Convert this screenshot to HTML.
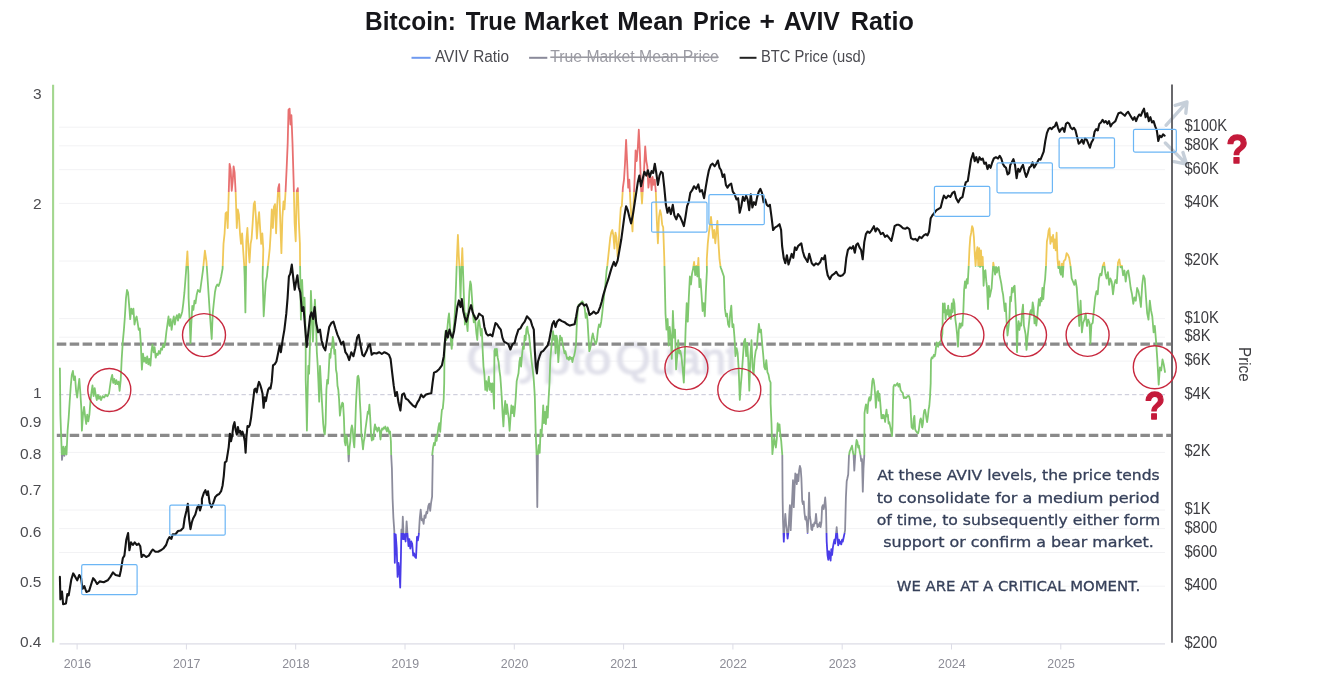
<!DOCTYPE html>
<html lang="en"><head><meta charset="utf-8"><title>Bitcoin: True Market Mean Price + AVIV Ratio</title>
<style>
html,body{margin:0;padding:0;background:#fff;}
body{width:1318px;height:678px;overflow:hidden;}
svg{display:block;font-family:"Liberation Sans", sans-serif;}
</style></head><body>
<svg width="1318" height="678" viewBox="0 0 1318 678">
<defs>
<linearGradient id="av" gradientUnits="userSpaceOnUse" x1="0" y1="0" x2="0" y2="678">
<stop offset="0" stop-color="#e87070"/><stop offset="0.28260" stop-color="#e87070"/>
<stop offset="0.28260" stop-color="#f0c858"/><stop offset="0.39218" stop-color="#f0c858"/>
<stop offset="0.39218" stop-color="#80c870"/><stop offset="0.67153" stop-color="#80c870"/>
<stop offset="0.67153" stop-color="#8c8c9c"/><stop offset="0.78643" stop-color="#8c8c9c"/>
<stop offset="0.78643" stop-color="#4a3ce8"/><stop offset="1" stop-color="#4a3ce8"/>
</linearGradient>
<filter id="blur" x="-5%" y="-20%" width="110%" height="140%"><feGaussianBlur stdDeviation="1.5"/></filter>
</defs>
<rect width="1318" height="678" fill="#fff"/>

<g stroke="#f2f2f4" stroke-width="1">
<line x1="59" y1="127.2" x2="1165" y2="127.2"/>
<line x1="59" y1="145.8" x2="1165" y2="145.8"/>
<line x1="59" y1="169.7" x2="1165" y2="169.7"/>
<line x1="59" y1="203.4" x2="1165" y2="203.4"/>
<line x1="59" y1="261.0" x2="1165" y2="261.0"/>
<line x1="59" y1="318.6" x2="1165" y2="318.6"/>
<line x1="59" y1="337.2" x2="1165" y2="337.2"/>
<line x1="59" y1="361.1" x2="1165" y2="361.1"/>
<line x1="59" y1="452.4" x2="1165" y2="452.4"/>
<line x1="59" y1="510.0" x2="1165" y2="510.0"/>
<line x1="59" y1="528.6" x2="1165" y2="528.6"/>
<line x1="59" y1="552.5" x2="1165" y2="552.5"/>
<line x1="59" y1="586.2" x2="1165" y2="586.2"/>
</g>
<line x1="59.5" y1="643.8" x2="1165" y2="643.8" stroke="#dcdce6" stroke-width="1.2"/>
<g stroke="#dcdce6" stroke-width="1">
<line x1="77.1" y1="643.8" x2="77.1" y2="649.5"/>
<line x1="186.4" y1="643.8" x2="186.4" y2="649.5"/>
<line x1="295.7" y1="643.8" x2="295.7" y2="649.5"/>
<line x1="405.0" y1="643.8" x2="405.0" y2="649.5"/>
<line x1="514.3" y1="643.8" x2="514.3" y2="649.5"/>
<line x1="623.6" y1="643.8" x2="623.6" y2="649.5"/>
<line x1="732.9" y1="643.8" x2="732.9" y2="649.5"/>
<line x1="842.2" y1="643.8" x2="842.2" y2="649.5"/>
<line x1="951.5" y1="643.8" x2="951.5" y2="649.5"/>
<line x1="1060.8" y1="643.8" x2="1060.8" y2="649.5"/>
</g>
<g font-size="45" fill="#e0e0ea" stroke="#e0e0ea" stroke-width="1.4" filter="url(#blur)"><text x="466.5" y="373.5" textLength="145" lengthAdjust="spacingAndGlyphs">Crypto</text><text x="615.5" y="373.5" textLength="123" lengthAdjust="spacingAndGlyphs">Quant</text></g>
<line x1="59" y1="394.7" x2="1165" y2="394.7" stroke="#c6c6d6" stroke-width="1" stroke-dasharray="4.4 2.9"/>
<g fill="none" stroke="#c2cbd6" stroke-width="3.4" stroke-linecap="round" stroke-linejoin="round" opacity="0.92">
<path d="M1166.2,125.2 L1186.2,102.9 M1175.2,105.4 L1187,102 L1185.8,113.2"/>
<path d="M1165.4,143 L1185.8,163.4 M1183,152.6 L1186.6,164.1 L1174,161.6"/>
</g>
<line x1="53.1" y1="84.8" x2="53.1" y2="642.6" stroke="#a3d78f" stroke-width="2.1"/>
<line x1="1172" y1="84.5" x2="1172" y2="642.8" stroke="#58585c" stroke-width="1.8"/>
<g stroke="#8a8a8a" stroke-width="3.2" stroke-dasharray="9.5 3.4">
<line x1="56.8" y1="344.2" x2="1171" y2="344.2"/>
<line x1="56.8" y1="435.3" x2="1171" y2="435.3"/>
</g>
<path d="M59.9,368.3 L60.4,414.7 L61.2,437.3 L62.0,459.9 L63.4,446.6 L64.4,455.9 L65.7,446.6 L66.5,454.5 L67.6,430.7 L68.7,417.4 L69.7,401.5 L70.8,385.5 L71.8,374.9 L72.9,370.9 L74.0,380.2 L75.0,376.3 L76.1,390.8 L77.2,397.5 L78.2,388.2 L79.3,378.9 L80.3,392.2 L81.4,409.4 L81.9,430.7 L83.0,414.7 L84.1,406.8 L85.1,416.1 L86.2,424.0 L87.2,414.7 L88.3,421.4 L89.4,414.7 L90.4,401.5 L91.5,392.2 L92.5,385.5 L93.6,396.2 L94.7,388.2 L95.7,394.8 L96.8,400.1 L97.9,394.8 L98.9,398.8 L100.0,396.2 L101.0,400.1 L102.6,396.2 L104.2,397.5 L105.8,394.8 L107.4,396.2 L109.0,393.5 L110.1,385.5 L111.1,378.9 L112.2,374.9 L113.2,382.9 L114.3,378.9 L115.4,384.2 L116.4,380.2 L117.5,384.2 L118.6,381.6 L119.6,390.8 L120.7,380.2 L121.7,359.0 L122.8,341.8 L123.9,329.8 L124.9,316.5 L126.0,298.0 L127.0,290.0 L128.1,292.7 L129.2,305.9 L130.2,319.2 L131.3,308.6 L132.4,313.9 L133.4,308.6 L134.5,324.5 L135.5,319.2 L136.6,316.5 L137.7,323.2 L138.7,329.8 L139.8,328.5 L140.8,343.1 L141.9,369.6 L143.0,353.7 L144.0,361.7 L145.1,357.7 L146.2,363.0 L147.2,356.3 L148.3,364.3 L149.3,359.0 L150.4,365.6 L151.5,351.0 L152.5,344.4 L153.6,352.4 L154.6,347.1 L155.7,357.7 L156.8,353.7 L157.8,355.0 L158.9,351.0 L160.0,353.7 L161.0,348.4 L162.1,349.7 L163.1,344.4 L164.2,347.1 L165.3,341.8 L166.3,332.5 L167.4,324.5 L168.5,316.5 L169.5,325.8 L170.6,319.2 L171.6,329.8 L172.7,321.8 L173.8,316.5 L174.8,324.5 L175.9,317.9 L176.9,315.2 L178.0,320.5 L179.1,313.9 L180.1,317.9 L181.2,315.2 L182.3,311.2 L183.3,303.3 L184.4,292.7 L186.0,272.0 L187.4,251.4 L188.4,275.0 L188.6,298.0 L189.7,321.8 L190.5,343.1 L191.3,324.5 L192.3,305.9 L193.4,309.9 L194.5,300.6 L195.5,303.3 L196.6,295.3 L197.9,290.0 L200.0,292.0 L203.0,270.0 L204.9,250.7 L206.5,262.0 L208.0,285.0 L210.0,316.0 L211.7,339.0 L212.7,314.0 L213.8,303.0 L215.0,292.0 L216.0,287.0 L217.3,284.5 L218.6,286.0 L220.0,282.0 L221.2,276.5 L222.6,268.6 L223.5,243.9 L224.6,233.3 L225.6,213.4 L226.7,212.1 L227.7,228.0 L228.8,190.8 L229.6,163.8 L230.7,169.6 L231.7,190.8 L232.8,180.2 L233.6,166.4 L234.6,172.3 L235.7,193.5 L236.8,228.0 L237.8,209.4 L238.9,214.7 L240.0,233.3 L241.0,243.9 L242.1,233.3 L243.1,249.2 L244.2,265.2 L244.6,275.0 L245.4,312.4 L246.0,272.0 L246.3,241.3 L247.4,228.0 L248.5,249.2 L249.5,262.5 L250.6,243.9 L251.6,238.6 L252.7,222.7 L253.8,204.1 L254.8,201.5 L255.9,217.4 L256.9,238.6 L258.0,222.7 L259.1,212.1 L260.1,228.0 L261.2,243.9 L262.3,233.3 L263.3,249.2 L262.6,276.5 L263.7,316.3 L264.8,297.8 L265.8,281.8 L266.9,276.5 L267.9,265.9 L268.6,259.9 L269.7,249.2 L270.7,233.3 L271.8,209.4 L272.9,228.0 L273.9,206.8 L275.0,204.1 L276.1,233.3 L277.1,206.8 L278.2,188.2 L279.2,184.2 L280.3,222.7 L281.4,253.2 L282.4,217.4 L283.5,201.5 L284.5,209.4 L285.6,190.8 L286.7,167.0 L287.7,143.1 L288.5,109.9 L289.6,108.6 L290.4,124.5 L291.4,115.2 L292.5,143.1 L293.6,180.2 L294.6,222.7 L295.7,241.3 L296.8,190.8 L297.8,188.2 L298.9,222.7 L299.9,243.9 L300.1,265.9 L300.9,319.6 L302.1,279.8 L303.3,309.7 L304.5,297.7 L305.7,335.5 L305.7,379.8 L306.5,409.6 L306.9,430.5 L307.5,399.7 L308.3,365.8 L309.1,373.8 L309.9,345.9 L310.3,327.6 L310.9,290.8 L312.1,319.6 L312.9,341.5 L314.1,315.6 L314.9,299.7 L316.1,323.6 L316.8,351.5 L317.6,363.8 L318.4,381.8 L319.2,401.7 L320.0,365.8 L320.8,379.8 L321.6,395.7 L322.4,409.6 L323.2,423.6 L324.0,431.5 L324.8,434.5 L325.6,423.6 L326.4,389.7 L327.2,379.8 L328.0,383.7 L328.8,369.8 L329.6,353.9 L330.4,357.9 L331.2,348.9 L332.0,347.9 L332.8,337.0 L333.6,341.9 L334.4,353.9 L335.2,349.9 L336.0,369.8 L336.8,373.8 L337.5,385.7 L338.3,389.7 L339.1,399.7 L339.9,415.6 L340.7,409.6 L341.5,405.6 L342.3,402.7 L343.1,403.6 L343.9,417.6 L344.7,441.5 L345.5,445.4 L346.3,435.5 L347.1,438.5 L347.9,447.4 L348.7,461.4 L349.5,447.4 L350.3,441.5 L351.1,429.5 L351.9,425.5 L352.7,429.5 L353.5,441.5 L354.3,447.4 L355.1,429.5 L355.9,405.6 L356.7,389.7 L357.5,376.8 L358.2,375.8 L359.0,379.8 L359.8,399.7 L360.6,413.6 L361.4,435.5 L362.2,441.5 L363.0,449.4 L363.8,441.5 L364.6,437.5 L365.4,429.5 L366.2,423.6 L367.0,417.6 L367.8,411.6 L368.6,413.6 L369.4,404.6 L370.2,417.6 L371.0,433.5 L371.8,440.5 L372.6,437.5 L373.4,439.5 L374.2,429.5 L375.0,424.5 L375.8,429.5 L376.6,427.5 L377.4,431.5 L378.2,429.5 L378.9,427.5 L379.7,430.5 L380.5,439.5 L381.3,431.5 L382.1,428.5 L382.9,429.5 L383.7,427.5 L384.5,428.5 L385.3,426.5 L386.1,429.5 L386.9,431.5 L387.7,427.5 L388.5,429.5 L389.3,433.5 L390.1,431.5 L390.9,441.5 L391.2,455.3 L391.9,468.3 L392.6,499.0 L393.4,517.9 L394.3,530.9 L394.8,562.8 L395.7,534.4 L396.7,548.6 L397.6,576.9 L398.5,562.8 L399.5,572.2 L400.2,587.5 L400.9,558.0 L401.4,529.7 L402.1,539.2 L402.8,516.7 L403.7,539.2 L404.7,534.4 L405.6,541.5 L406.6,521.4 L407.5,534.4 L408.5,546.2 L409.4,539.2 L410.3,548.6 L411.3,541.5 L412.2,543.9 L413.2,555.7 L414.1,553.3 L415.1,556.9 L416.0,558.0 L417.0,536.8 L417.9,540.3 L418.8,534.4 L419.8,517.9 L420.7,509.6 L421.7,520.3 L422.6,519.1 L423.6,523.8 L424.5,515.5 L425.5,517.9 L426.4,512.0 L427.3,513.2 L428.3,506.1 L429.2,503.7 L430.2,510.8 L431.1,502.6 L432.1,496.7 L432.8,455.3 L432.2,455.2 L433.1,447.4 L434.0,443.0 L434.9,445.2 L435.8,436.4 L436.6,440.8 L437.5,434.1 L438.4,427.5 L439.3,423.1 L440.2,431.9 L441.1,418.7 L441.9,409.8 L442.8,408.7 L443.7,398.8 L444.2,383.3 L444.6,344.4 L445.5,331.2 L446.4,340.0 L447.3,329.0 L448.1,320.1 L449.0,313.5 L449.9,324.5 L450.8,340.0 L451.7,348.9 L452.6,337.8 L453.4,331.2 L454.3,322.3 L455.2,306.8 L456.1,282.5 L457.0,256.0 L457.9,235.0 L458.8,256.0 L459.6,269.2 L460.5,298.0 L461.4,269.2 L462.3,248.2 L463.2,275.9 L464.1,302.4 L464.9,324.5 L465.8,313.5 L466.7,322.3 L467.6,331.2 L468.5,309.1 L469.4,291.4 L470.3,281.4 L471.1,284.7 L472.0,298.0 L472.9,313.5 L473.8,322.3 L474.7,315.7 L475.6,324.5 L476.4,333.4 L477.3,340.0 L478.2,322.3 L479.1,320.1 L480.0,326.7 L480.9,335.6 L481.8,329.0 L482.6,348.9 L483.5,366.6 L484.4,374.4 L485.3,389.9 L486.2,381.1 L487.1,391.0 L488.0,383.3 L488.8,376.6 L489.7,389.9 L490.6,383.3 L491.5,392.1 L492.4,383.3 L493.3,392.1 L494.1,408.7 L494.4,351.1 L495.0,348.9 L495.9,355.5 L496.8,348.9 L497.7,357.7 L498.6,362.1 L499.5,371.0 L500.3,376.6 L500.8,383.3 L501.7,396.5 L502.6,414.2 L503.4,426.4 L504.3,409.8 L505.2,401.0 L506.1,414.2 L507.0,404.3 L507.9,412.0 L508.7,418.7 L509.6,430.8 L510.5,417.6 L511.4,405.4 L512.3,413.1 L513.2,406.5 L514.1,416.4 L514.9,408.7 L515.8,396.5 L516.7,381.1 L518.5,373.2 L519.4,362.1 L520.2,357.7 L521.1,366.6 L522.0,355.5 L522.9,346.7 L523.8,348.9 L524.7,335.6 L525.6,340.0 L526.4,329.0 L527.3,326.7 L528.2,333.4 L529.1,335.6 L530.0,344.4 L530.9,353.3 L531.7,362.1 L532.6,368.8 L533.5,376.6 L534.0,383.3 L534.8,396.5 L535.7,431.9 L536.6,455.2 L537.3,507.1 L537.9,455.2 L538.8,445.2 L539.7,452.9 L540.6,429.7 L541.5,436.4 L542.4,422.0 L543.2,405.4 L544.1,423.1 L545.0,412.0 L545.9,424.2 L546.8,406.5 L547.7,417.6 L548.6,398.8 L549.4,385.5 L550.3,359.9 L551.2,348.9 L552.1,340.0 L553.0,331.2 L553.9,340.0 L554.8,335.6 L555.6,353.3 L556.5,335.6 L557.4,340.0 L558.3,362.1 L559.2,348.9 L560.1,335.6 L560.9,340.0 L561.8,337.8 L562.7,344.4 L563.6,348.9 L564.5,353.3 L565.4,351.1 L566.3,355.5 L567.1,358.8 L568.0,357.7 L568.9,359.9 L569.8,356.6 L570.7,358.8 L571.6,357.7 L572.4,362.1 L573.3,357.7 L574.2,355.5 L575.1,351.1 L576.0,344.4 L576.9,322.3 L577.8,309.1 L578.6,304.6 L579.5,305.7 L580.4,303.5 L581.3,302.4 L582.2,301.3 L583.1,302.4 L583.9,304.6 L584.8,309.1 L585.7,317.9 L586.6,313.5 L587.5,320.1 L588.4,335.6 L589.3,351.1 L590.1,348.9 L591.0,344.4 L591.9,337.8 L592.8,333.4 L593.7,337.8 L595.0,342.2 L595.9,344.2 L596.9,340.2 L598.0,329.6 L599.0,324.3 L600.1,327.0 L601.2,321.7 L602.2,313.7 L603.3,303.1 L604.4,292.5 L605.4,284.5 L606.5,271.2 L607.3,265.9 L608.0,259.2 L609.1,248.6 L610.2,238.0 L611.2,232.7 L612.3,230.0 L613.4,235.4 L614.4,248.6 L615.5,232.7 L616.5,238.0 L617.6,256.6 L618.7,243.3 L619.7,224.7 L620.8,207.5 L621.8,206.2 L622.9,187.6 L624.0,179.6 L625.0,163.7 L626.1,139.8 L627.2,163.7 L628.2,187.6 L629.3,179.6 L630.3,200.8 L631.4,216.8 L632.5,231.4 L633.5,206.2 L634.6,179.6 L635.6,150.4 L636.7,161.0 L637.8,147.8 L638.8,129.7 L639.9,153.1 L641.0,187.6 L642.0,203.5 L643.1,184.9 L644.1,169.0 L645.2,146.4 L646.3,161.0 L647.3,166.3 L648.4,187.6 L649.4,179.6 L650.5,177.0 L651.6,190.2 L652.6,177.0 L653.7,184.9 L654.8,179.6 L655.8,191.6 L656.9,222.1 L657.9,243.3 L659.0,216.8 L660.1,210.1 L661.1,214.1 L662.2,224.7 L663.2,227.4 L664.3,259.2 L665.5,313.7 L666.5,329.6 L667.6,319.0 L668.7,345.5 L669.7,327.0 L670.8,337.6 L671.8,358.8 L672.9,311.0 L674.0,337.6 L675.0,329.6 L676.1,369.4 L677.2,356.2 L678.2,340.2 L679.3,353.5 L680.3,350.8 L681.4,356.2 L682.5,366.8 L683.8,382.7 L684.6,361.5 L685.6,329.6 L686.7,303.1 L687.8,321.7 L688.8,297.8 L689.9,276.5 L691.0,284.5 L692.0,273.9 L693.1,268.6 L694.1,261.9 L695.2,275.2 L696.3,265.9 L697.3,276.5 L698.4,258.0 L699.4,287.2 L700.5,279.2 L701.6,295.1 L702.6,311.0 L703.7,303.1 L704.8,316.3 L705.8,292.5 L706.9,271.2 L706.8,259.2 L707.8,243.3 L708.9,232.7 L710.0,224.7 L711.0,216.8 L712.1,227.4 L713.1,238.0 L714.2,230.0 L715.3,243.3 L716.3,232.7 L717.4,220.8 L718.5,243.3 L719.5,259.2 L720.6,267.2 L721.6,269.9 L723.9,276.5 L724.9,308.4 L726.0,316.3 L727.0,313.7 L728.1,324.3 L729.2,327.0 L730.2,313.7 L731.3,305.7 L732.4,327.0 L733.4,324.3 L734.5,337.6 L735.5,356.2 L736.6,348.2 L737.7,353.5 L738.7,369.4 L739.8,399.9 L740.8,385.4 L741.9,372.1 L743.0,356.2 L744.0,341.6 L745.1,338.9 L746.2,356.2 L747.2,342.9 L748.3,361.5 L749.3,390.7 L750.4,356.2 L751.5,340.2 L752.5,366.8 L753.6,374.7 L754.6,358.8 L755.7,350.8 L756.8,348.2 L757.8,334.9 L758.9,323.8 L760.0,332.3 L761.0,329.6 L762.1,342.9 L763.1,353.5 L764.2,366.8 L765.3,369.4 L766.3,360.1 L767.4,372.1 L768.5,374.7 L769.5,380.0 L770.6,382.7 L770.6,403.3 L771.5,423.2 L772.4,454.1 L773.3,445.3 L774.2,437.6 L775.0,443.1 L775.9,447.5 L776.8,438.7 L777.7,423.2 L778.6,430.9 L779.5,424.3 L780.3,434.2 L781.2,440.9 L782.3,455.3 L782.6,497.5 L783.0,520.5 L783.8,541.6 L784.6,524.3 L785.3,513.8 L786.1,524.3 L786.9,530.1 L787.6,538.7 L788.4,532.0 L789.2,516.7 L789.9,505.2 L790.7,530.1 L791.5,512.8 L792.2,497.5 L793.0,480.2 L793.8,507.1 L794.5,489.8 L795.3,473.5 L796.1,474.5 L796.8,484.1 L797.6,474.5 L798.4,481.2 L799.1,470.7 L799.9,465.9 L800.7,468.7 L801.4,478.3 L802.2,501.3 L803.0,504.2 L803.7,501.3 L804.5,512.8 L805.3,519.5 L806.0,516.7 L806.8,522.4 L807.6,532.9 L808.3,520.5 L809.1,492.7 L809.9,516.7 L810.6,520.5 L811.4,529.1 L812.2,530.1 L812.9,524.3 L813.7,526.2 L814.5,522.4 L815.2,523.4 L816.0,513.8 L816.8,522.4 L817.5,527.2 L818.3,524.3 L819.1,526.2 L819.8,522.4 L820.6,527.2 L821.4,522.4 L822.1,507.1 L822.9,505.2 L823.7,509.0 L824.4,505.2 L825.2,497.5 L826.0,509.0 L826.7,541.6 L827.5,555.0 L828.3,559.8 L829.0,551.2 L829.8,555.0 L830.6,560.7 L831.3,549.2 L832.1,555.0 L832.9,547.3 L833.6,543.5 L834.4,539.7 L835.2,543.5 L835.9,535.8 L836.7,527.2 L837.5,537.7 L838.2,545.4 L839.0,539.7 L839.8,543.5 L840.5,541.6 L841.3,544.4 L842.1,539.7 L842.8,541.6 L843.6,537.7 L844.4,533.9 L845.1,530.1 L845.9,497.5 L846.7,481.2 L847.4,478.3 L848.2,474.5 L849.0,455.3 L849.7,451.5 L850.5,449.6 L851.3,447.7 L852.0,445.7 L852.8,451.5 L853.6,455.3 L854.3,470.7 L855.1,457.2 L855.9,445.7 L856.6,440.0 L857.4,441.9 L858.2,447.7 L858.9,445.7 L859.7,451.5 L860.5,455.3 L861.2,461.1 L862.0,459.2 L862.8,491.7 L863.5,468.7 L864.3,455.3 L864.5,413.1 L865.3,407.8 L866.0,404.3 L866.7,406.0 L867.4,413.1 L868.1,404.3 L868.8,399.0 L869.5,397.2 L870.2,400.7 L870.9,399.0 L871.6,390.1 L872.3,381.3 L873.0,378.6 L873.7,380.4 L874.5,386.6 L875.2,395.4 L875.9,407.8 L876.6,397.2 L877.3,391.9 L878.0,391.0 L878.7,400.7 L879.4,393.7 L880.1,400.7 L880.8,409.6 L881.5,418.4 L882.2,414.9 L882.9,418.4 L883.6,414.9 L884.4,416.6 L885.1,422.0 L885.8,414.9 L886.5,409.6 L887.2,416.6 L887.9,414.9 L888.6,423.7 L889.3,422.0 L890.0,425.5 L890.7,429.0 L891.4,432.6 L892.0,436.1 L892.5,425.5 L893.0,400.7 L893.5,386.6 L894.3,384.8 L895.3,385.7 L896.4,384.8 L897.4,383.1 L898.5,386.6 L899.6,383.9 L900.6,390.1 L901.7,391.9 L902.7,392.8 L903.8,398.1 L904.9,397.2 L905.9,398.1 L907.0,396.8 L908.1,395.8 L909.1,396.3 L910.2,400.7 L910.9,414.9 L911.6,427.3 L912.3,428.1 L913.0,429.0 L913.7,418.4 L914.4,415.8 L915.1,429.0 L915.8,430.8 L916.5,431.7 L917.2,432.6 L918.0,433.4 L918.7,430.8 L919.4,425.5 L920.1,420.2 L920.8,418.4 L921.5,421.1 L922.2,427.3 L922.9,423.7 L923.6,414.9 L924.3,410.5 L925.0,409.6 L925.7,413.1 L926.4,418.4 L927.1,422.0 L927.9,416.6 L928.6,409.6 L929.3,406.0 L930.0,397.2 L930.7,383.1 L931.0,360.1 L931.7,357.4 L932.5,358.3 L933.2,356.5 L933.9,354.8 L934.6,356.5 L935.3,353.9 L936.0,347.7 L936.7,342.4 L937.4,345.9 L938.1,346.8 L938.8,343.3 L939.5,342.4 L940.2,341.5 L940.9,340.6 L941.6,338.8 L942.4,333.5 L942.9,303.5 L943.8,312.3 L944.7,303.5 L945.6,319.0 L946.4,310.1 L947.3,314.5 L948.2,305.7 L949.1,316.7 L950.0,310.1 L950.9,319.0 L951.8,303.5 L952.6,312.3 L953.5,299.1 L954.4,303.5 L955.3,319.0 L956.2,325.6 L957.1,334.4 L958.0,346.6 L958.8,330.0 L959.7,323.4 L960.6,327.8 L961.5,323.4 L962.4,325.6 L963.3,312.3 L964.1,290.2 L965.0,281.4 L965.9,288.0 L966.8,279.1 L967.7,283.6 L968.6,268.1 L969.5,248.2 L970.3,237.1 L971.2,232.7 L972.1,226.1 L973.0,228.3 L973.9,237.1 L974.8,254.8 L975.6,265.9 L976.5,252.6 L977.4,247.1 L978.3,265.9 L979.2,248.2 L980.1,267.0 L981.0,250.4 L981.8,265.9 L982.7,257.0 L983.6,285.8 L984.5,271.4 L985.4,270.3 L986.3,281.4 L987.1,288.0 L988.0,309.0 L988.9,285.8 L989.8,296.8 L990.7,292.4 L991.6,288.0 L992.5,274.7 L993.3,262.6 L994.2,268.1 L995.1,274.7 L996.0,267.0 L996.9,272.5 L997.8,268.1 L998.7,267.0 L999.5,274.7 L1000.4,279.1 L1001.3,283.6 L1002.2,290.2 L1003.1,294.6 L1004.0,303.5 L1004.8,311.2 L1005.7,303.5 L1006.6,321.2 L1007.5,335.5 L1008.4,327.8 L1009.3,321.2 L1010.2,296.8 L1011.0,301.3 L1011.9,288.0 L1012.8,292.4 L1013.7,286.9 L1014.6,285.8 L1015.5,303.5 L1016.3,321.2 L1017.0,352.1 L1017.7,330.0 L1018.6,321.2 L1019.4,330.0 L1020.3,323.4 L1021.2,325.6 L1022.1,312.3 L1023.0,304.6 L1023.9,325.6 L1024.8,330.0 L1025.6,334.4 L1026.5,349.9 L1027.4,338.9 L1028.3,330.0 L1029.2,321.2 L1030.1,312.3 L1030.9,310.1 L1031.8,314.5 L1032.7,302.4 L1033.6,307.9 L1034.5,323.4 L1035.4,316.7 L1036.3,325.6 L1037.1,319.0 L1038.0,307.9 L1038.9,299.1 L1039.8,305.7 L1040.7,297.9 L1041.6,301.3 L1042.4,288.0 L1043.3,299.1 L1044.2,285.8 L1045.1,279.1 L1046.0,265.9 L1046.9,241.5 L1047.8,237.1 L1048.6,230.5 L1049.5,228.3 L1050.4,243.8 L1051.3,237.1 L1052.2,241.5 L1053.1,234.9 L1053.9,248.2 L1054.8,239.3 L1055.7,250.4 L1056.6,232.7 L1057.5,259.2 L1058.4,268.1 L1059.3,261.4 L1060.1,272.5 L1061.0,274.7 L1061.9,263.7 L1062.8,276.9 L1063.7,261.4 L1065.4,259.4 L1066.6,253.1 L1067.9,254.7 L1069.2,257.8 L1070.5,265.8 L1071.7,278.5 L1073.0,281.6 L1074.3,284.8 L1075.5,280.0 L1076.8,288.0 L1078.1,307.0 L1079.3,326.0 L1080.6,300.7 L1081.9,332.4 L1083.1,322.9 L1084.4,319.7 L1085.7,313.4 L1087.0,326.0 L1088.2,319.7 L1089.5,322.9 L1090.4,343.5 L1091.4,324.5 L1092.7,322.9 L1093.9,310.2 L1095.2,297.5 L1096.5,291.1 L1097.7,294.3 L1099.0,278.5 L1100.3,273.7 L1101.5,275.3 L1102.8,265.8 L1104.1,262.6 L1105.4,273.7 L1106.6,278.5 L1107.9,272.1 L1109.2,284.8 L1110.4,278.5 L1111.7,281.6 L1113.0,294.3 L1114.2,284.8 L1115.5,280.0 L1116.8,283.2 L1118.0,262.6 L1119.3,259.4 L1120.6,267.3 L1121.9,265.8 L1123.1,275.3 L1124.4,270.5 L1125.7,281.6 L1126.9,272.1 L1128.2,270.5 L1129.5,278.5 L1130.7,288.0 L1132.0,294.3 L1133.3,303.8 L1134.5,297.5 L1135.8,300.7 L1137.1,288.0 L1138.4,291.1 L1139.6,297.5 L1140.9,307.0 L1142.2,284.8 L1143.4,275.3 L1144.7,278.5 L1146.0,297.5 L1147.2,313.4 L1148.5,319.7 L1149.8,300.7 L1151.0,310.2 L1152.3,316.5 L1153.6,332.4 L1154.8,326.0 L1156.1,341.9 L1157.4,360.9 L1158.7,384.7 L1159.9,367.3 L1161.2,370.5 L1162.5,359.4 L1163.7,364.1 L1165.0,372.0" fill="none" stroke="url(#av)" stroke-width="1.8" stroke-linejoin="round" stroke-linecap="round"/>
<path d="M59.9,576.9 L60.4,599.4 L62.0,591.5 L63.1,604.2 L66.0,603.4 L67.3,594.1 L68.7,595.4 L71.3,579.5 L73.2,573.4 L75.3,576.9 L77.2,580.3 L79.3,575.0 L81.1,578.2 L82.5,588.8 L84.3,586.2 L86.4,592.0 L89.1,590.9 L91.8,582.2 L93.1,578.2 L94.9,580.3 L97.1,584.0 L99.7,581.4 L103.7,582.2 L107.7,580.3 L110.3,576.9 L113.0,572.4 L115.6,575.0 L119.6,576.1 L120.9,570.2 L122.8,558.3 L124.4,555.6 L126.3,539.7 L128.1,533.1 L129.4,550.3 L131.0,542.4 L132.9,545.0 L134.7,542.4 L136.9,545.0 L138.7,543.7 L140.3,546.3 L141.6,557.0 L143.5,554.8 L146.2,557.0 L148.8,555.6 L151.5,551.1 L152.8,549.5 L155.4,551.7 L158.1,551.7 L160.8,550.3 L163.4,548.5 L166.1,545.0 L167.9,539.7 L169.5,537.1 L171.4,538.9 L172.7,534.4 L175.4,534.4 L178.0,531.0 L180.7,530.4 L183.3,527.8 L184.6,518.5 L186.5,510.5 L187.8,503.9 L189.2,519.8 L190.5,529.1 L191.8,522.5 L193.1,518.5 L195.3,514.5 L197.1,507.9 L198.7,505.2 L200.0,510.5 L201.9,503.9 L201.9,498.8 L203.8,493.1 L205.4,490.2 L206.9,495.0 L208.0,491.2 L209.6,502.7 L211.5,507.4 L213.4,502.7 L215.3,496.9 L217.2,495.0 L219.2,494.0 L221.1,491.2 L222.6,485.4 L223.8,475.8 L224.9,462.4 L226.4,461.4 L227.8,452.8 L228.7,447.1 L229.9,433.7 L231.0,441.3 L232.2,435.6 L233.3,426.0 L234.5,422.2 L235.6,429.8 L236.8,434.6 L237.9,427.0 L239.1,432.7 L240.2,430.8 L241.4,434.6 L242.5,431.7 L243.7,435.6 L244.8,441.3 L245.6,452.8 L246.4,437.5 L247.5,426.0 L248.7,427.0 L249.8,425.0 L251.0,418.3 L252.1,408.7 L253.3,399.2 L254.4,389.6 L255.6,388.6 L256.7,392.5 L257.9,385.7 L259.0,381.9 L260.2,384.8 L261.3,388.6 L262.5,393.4 L263.6,407.8 L264.8,397.2 L265.9,401.1 L267.1,394.4 L268.2,389.6 L269.4,387.7 L270.5,388.6 L271.7,381.9 L273.0,365.4 L274.8,364.1 L276.4,361.5 L278.3,352.2 L279.6,345.5 L280.9,352.2 L282.8,338.9 L284.4,329.6 L286.3,313.7 L287.6,297.8 L288.9,276.5 L290.2,273.9 L291.8,264.6 L293.4,279.2 L294.7,289.8 L296.1,281.8 L297.4,275.2 L298.7,287.2 L300.3,292.5 L301.9,311.0 L303.5,307.1 L305.1,327.0 L306.7,346.9 L308.3,332.3 L310.1,316.3 L311.5,312.4 L313.1,319.0 L314.6,307.1 L316.2,323.0 L318.1,332.3 L320.0,329.6 L321.5,340.2 L323.4,346.9 L325.3,350.3 L327.4,337.6 L329.2,327.0 L331.4,323.0 L333.5,321.7 L335.4,328.3 L337.5,334.9 L339.3,338.9 L341.2,344.2 L343.3,341.6 L345.4,352.2 L347.3,354.8 L349.2,360.1 L351.3,352.2 L353.4,356.2 L355.3,348.2 L357.1,337.6 L358.7,334.9 L360.6,345.5 L362.4,354.8 L364.0,356.2 L366.7,350.8 L368.5,345.5 L369.9,344.2 L371.7,354.8 L373.8,353.0 L376.5,353.5 L379.1,352.2 L381.8,354.0 L384.4,352.2 L387.1,353.5 L389.0,354.8 L390.6,358.8 L392.1,372.1 L393.7,385.4 L395.3,396.0 L396.9,392.0 L398.5,402.6 L400.4,410.6 L402.1,394.6 L404.0,393.3 L405.8,398.6 L408.0,399.9 L410.1,402.6 L412.7,405.3 L415.4,407.1 L417.3,402.6 L419.1,399.9 L421.2,394.6 L423.4,397.3 L426.0,394.6 L428.7,393.8 L431.3,393.3 L432.6,382.7 L434.0,372.6 L436.6,371.5 L439.3,368.9 L441.9,365.4 L443.8,356.2 L445.1,340.2 L446.2,330.9 L447.8,337.6 L449.4,329.6 L451.0,334.9 L452.5,337.6 L454.1,330.9 L455.7,319.0 L457.3,307.1 L458.9,300.4 L460.5,307.1 L461.8,299.1 L463.2,311.0 L464.8,317.7 L466.3,321.7 L467.9,316.3 L469.5,309.7 L471.1,305.2 L472.7,312.4 L474.3,316.3 L475.9,319.5 L477.5,317.7 L479.1,313.7 L480.9,315.0 L482.8,316.3 L484.4,327.0 L486.3,333.6 L488.1,335.5 L490.2,334.4 L492.4,336.3 L493.9,329.6 L495.5,323.0 L497.1,324.3 L498.7,327.0 L500.8,329.6 L502.4,337.6 L504.0,341.6 L506.2,342.9 L508.3,344.2 L510.4,349.5 L512.5,344.2 L514.6,342.9 L516.2,336.3 L518.4,329.6 L520.5,328.3 L522.6,324.3 L524.7,321.7 L526.9,316.3 L529.0,318.5 L530.6,320.3 L532.2,325.6 L533.8,329.6 L534.8,350.8 L535.9,366.8 L536.9,373.4 L538.0,361.5 L539.6,356.2 L541.2,352.2 L543.3,350.8 L545.4,348.2 L547.6,345.5 L549.2,340.2 L550.7,332.3 L552.3,324.3 L553.9,321.1 L555.5,327.0 L557.1,321.7 L559.2,319.5 L561.9,321.1 L564.5,322.2 L567.2,324.3 L569.9,325.6 L572.5,324.8 L574.6,324.3 L576.2,316.3 L577.8,307.1 L579.9,304.4 L582.1,303.1 L584.2,305.7 L586.3,304.4 L587.9,308.4 L589.5,315.0 L591.6,313.7 L593.7,311.6 L595.9,313.7 L598.0,312.4 L600.1,307.1 L601.7,301.8 L603.3,295.1 L604.9,289.8 L606.5,284.5 L608.3,279.2 L610.2,272.6 L611.8,267.3 L613.9,261.9 L615.5,265.9 L617.6,260.6 L619.7,248.6 L621.3,239.3 L622.9,227.4 L624.5,215.4 L626.1,206.2 L627.7,210.1 L629.3,216.8 L631.1,223.4 L633.0,214.1 L634.6,203.5 L636.2,192.9 L637.8,182.3 L639.4,175.6 L641.0,186.3 L642.5,179.6 L644.4,171.7 L646.3,175.6 L647.9,170.3 L649.7,177.0 L651.6,171.1 L653.2,173.0 L654.8,163.7 L656.3,173.0 L657.9,184.9 L659.5,175.6 L661.1,171.7 L662.7,173.0 L664.3,187.6 L665.9,204.8 L667.5,212.8 L669.1,207.5 L670.9,214.1 L672.8,204.8 L674.4,215.4 L676.3,219.4 L678.1,214.1 L680.2,216.8 L682.4,222.1 L683.9,226.1 L685.5,216.8 L687.1,206.2 L688.7,202.2 L690.3,192.9 L692.2,190.2 L694.0,186.3 L696.2,188.9 L698.3,184.4 L699.9,191.6 L702.0,190.2 L704.1,198.2 L705.7,187.6 L707.3,178.3 L708.9,170.3 L710.8,165.0 L712.6,163.7 L714.7,166.3 L716.3,163.7 L717.9,160.5 L719.5,167.7 L721.1,170.3 L722.7,177.0 L724.3,174.3 L725.9,184.9 L727.5,187.6 L729.3,184.9 L731.2,183.6 L732.8,191.6 L734.6,194.2 L736.5,199.5 L738.1,198.2 L739.7,212.8 L741.3,206.2 L742.9,196.9 L744.5,200.8 L746.1,195.5 L747.6,199.5 L749.2,210.1 L750.8,194.2 L752.4,207.5 L754.0,202.2 L755.6,204.8 L757.2,196.9 L758.8,191.6 L760.4,188.9 L762.0,192.9 L763.6,202.2 L765.2,199.5 L766.8,204.8 L768.3,206.2 L769.9,204.8 L771.5,216.8 L773.1,230.0 L775.2,227.4 L777.4,226.1 L779.5,224.2 L781.1,230.0 L782.1,246.0 L783.7,257.9 L785.3,263.2 L786.9,255.3 L788.5,264.5 L790.1,259.2 L791.7,253.9 L793.3,257.9 L794.9,247.3 L796.5,249.9 L798.1,246.0 L799.7,244.6 L801.3,243.3 L802.8,251.3 L804.4,256.6 L806.0,259.2 L807.6,261.9 L809.2,253.9 L811.8,263.3 L813.9,265.4 L816.0,263.3 L818.1,264.6 L820.3,262.0 L821.8,258.0 L823.4,259.3 L825.0,255.4 L826.4,268.6 L827.7,275.3 L829.8,279.2 L831.9,275.3 L834.1,273.9 L836.2,271.8 L838.3,275.3 L840.4,276.1 L842.5,275.3 L844.7,272.6 L846.3,258.0 L847.9,250.0 L850.0,247.4 L851.6,248.7 L853.2,246.1 L854.8,252.7 L856.3,244.7 L857.9,243.4 L859.5,247.4 L861.1,250.0 L862.7,259.3 L864.3,242.1 L865.9,234.1 L867.5,231.5 L869.6,232.8 L871.7,230.1 L873.9,226.2 L875.5,231.5 L877.0,228.3 L878.9,230.1 L880.8,234.1 L882.9,232.8 L885.0,236.8 L887.1,235.4 L889.3,238.1 L891.4,240.8 L893.0,234.1 L894.6,226.2 L896.7,224.8 L898.8,224.8 L900.9,226.2 L903.1,228.3 L905.2,228.8 L907.3,227.5 L909.4,229.3 L911.0,238.1 L913.1,239.4 L915.3,238.9 L917.4,240.8 L919.5,236.8 L921.6,238.1 L923.8,235.4 L925.9,234.1 L927.5,235.4 L929.1,231.5 L930.7,218.2 L932.3,215.5 L934.4,212.9 L936.5,210.2 L938.6,208.9 L940.7,207.6 L942.3,200.9 L943.9,195.6 L946.1,198.3 L948.2,195.6 L950.3,197.0 L952.4,193.0 L954.5,191.7 L956.1,198.3 L958.3,202.3 L960.4,198.3 L962.5,197.0 L964.1,189.0 L965.7,182.4 L967.8,181.0 L969.4,170.4 L971.0,159.8 L973.1,153.2 L974.7,161.1 L976.3,157.2 L977.9,162.5 L979.5,157.2 L981.1,159.8 L982.7,158.5 L984.3,163.8 L985.9,162.5 L987.5,169.1 L989.0,165.1 L990.6,167.8 L992.2,162.5 L993.8,158.5 L995.9,157.2 L998.1,158.5 L999.7,155.8 L1001.3,158.5 L1002.8,163.8 L1004.4,166.4 L1006.0,167.8 L1007.6,174.4 L1009.2,173.1 L1010.3,164.9 L1011.8,162.3 L1013.4,159.1 L1015.0,164.9 L1016.6,178.2 L1018.2,168.9 L1019.8,171.6 L1021.4,167.6 L1023.0,164.9 L1024.6,171.6 L1026.2,176.9 L1027.8,172.9 L1029.4,167.6 L1031.0,166.3 L1032.5,162.3 L1034.1,167.6 L1035.7,164.9 L1037.3,162.3 L1038.9,159.1 L1040.5,159.6 L1042.1,155.6 L1043.7,151.7 L1045.3,141.0 L1046.9,133.1 L1048.5,129.1 L1050.1,127.8 L1051.7,129.1 L1053.2,127.2 L1054.8,126.4 L1056.4,122.5 L1058.0,127.8 L1059.6,131.8 L1061.2,129.1 L1062.8,127.8 L1064.4,131.8 L1066.0,123.8 L1067.6,122.5 L1069.2,123.8 L1070.8,127.8 L1072.4,129.1 L1073.9,127.8 L1075.5,130.4 L1077.1,137.1 L1078.7,143.7 L1080.3,142.4 L1081.9,139.7 L1083.5,143.7 L1085.1,138.4 L1086.7,139.7 L1088.3,143.7 L1089.9,147.7 L1091.5,142.4 L1093.1,139.7 L1094.6,131.8 L1096.2,129.1 L1097.8,130.4 L1099.4,123.8 L1101.0,122.5 L1102.6,119.8 L1104.2,122.5 L1105.8,121.1 L1107.4,123.8 L1109.0,121.1 L1110.6,126.4 L1112.2,123.8 L1113.8,122.5 L1115.4,121.1 L1116.9,117.2 L1118.5,113.2 L1120.7,112.4 L1122.8,114.0 L1124.9,115.8 L1126.5,113.2 L1128.1,111.8 L1129.7,114.5 L1131.3,117.2 L1132.9,119.8 L1134.5,117.2 L1136.1,121.1 L1137.6,117.2 L1139.2,114.5 L1140.8,115.8 L1142.4,111.8 L1144.0,108.7 L1145.6,117.2 L1147.2,113.2 L1148.8,121.1 L1150.4,117.2 L1152.0,122.5 L1153.6,121.1 L1155.2,126.4 L1156.8,130.4 L1158.3,141.0 L1159.9,135.7 L1161.5,137.1 L1163.1,134.4 L1164.7,135.7" fill="none" stroke="#141414" stroke-width="2.1" stroke-linejoin="round" stroke-linecap="round"/>
<g fill="none" stroke="#6cb6f5" stroke-width="1.2">
<rect x="81.7" y="564.7" width="55.4" height="30" rx="1.5"/>
<rect x="169.8" y="505.2" width="55.4" height="30" rx="1.5"/>
<rect x="651.6" y="202.2" width="55.4" height="30" rx="1.5"/>
<rect x="708.9" y="194.7" width="55.4" height="30" rx="1.5"/>
<rect x="934.4" y="186.3" width="55.4" height="30" rx="1.5"/>
<rect x="997" y="162.8" width="55.4" height="30" rx="1.5"/>
<rect x="1059.1" y="137.9" width="55.4" height="30" rx="1.5"/>
<rect x="1133.5" y="129.4" width="42.8" height="22.7" rx="1.5"/>
</g>
<g fill="none" stroke="#c8283e" stroke-width="1.4">
<circle cx="109.3" cy="390" r="21.5"/>
<circle cx="204" cy="335.1" r="21.5"/>
<circle cx="686.4" cy="368.1" r="21.5"/>
<circle cx="739.3" cy="389.9" r="21.5"/>
<circle cx="962.4" cy="335.1" r="21.5"/>
<circle cx="1025" cy="335.1" r="21.5"/>
<circle cx="1087.6" cy="334.9" r="21.5"/>
<circle cx="1154.8" cy="367.3" r="21.5"/>
</g>
<g font-weight="bold" fill="#c41a3a" stroke="#c41a3a" stroke-width="1.3" stroke-linejoin="round" text-anchor="middle" lengthAdjust="spacingAndGlyphs">
<text x="1237.3" y="163.0" font-size="40" textLength="22" lengthAdjust="spacingAndGlyphs">?</text>
<text x="1154.8" y="419.0" font-size="38" textLength="20.5" lengthAdjust="spacingAndGlyphs">?</text>
</g>
<g font-size="25.4" font-weight="bold" fill="#16161a" lengthAdjust="spacingAndGlyphs">
<text x="365.1" y="29.5" textLength="90.9" lengthAdjust="spacingAndGlyphs">Bitcoin:</text>
<text x="465.7" y="29.5" textLength="50.6" lengthAdjust="spacingAndGlyphs">True</text>
<text x="523.8" y="29.5" textLength="84.6" lengthAdjust="spacingAndGlyphs">Market</text>
<text x="617.2" y="29.5" textLength="66.2" lengthAdjust="spacingAndGlyphs">Mean</text>
<text x="693.1" y="29.5" textLength="57.9" lengthAdjust="spacingAndGlyphs">Price</text>
<text x="759.4" y="29.5" textLength="15.4" lengthAdjust="spacingAndGlyphs">+</text>
<text x="783.7" y="29.5" textLength="56.2" lengthAdjust="spacingAndGlyphs">AVIV</text>
<text x="850.8" y="29.5" textLength="63.0" lengthAdjust="spacingAndGlyphs">Ratio</text>
</g>
<line x1="411.5" y1="57.8" x2="430.6" y2="57.8" stroke="#6f9af0" stroke-width="2"/>
<text x="435" y="61.9" font-size="16" fill="#4a4a50" textLength="74" lengthAdjust="spacingAndGlyphs">AVIV Ratio</text>
<line x1="529.1" y1="57.8" x2="547.3" y2="57.8" stroke="#8a8a9a" stroke-width="2"/>
<text x="550.3" y="61.9" font-size="16" fill="#9a9aa2" text-decoration="line-through" textLength="168.4" lengthAdjust="spacingAndGlyphs">True Market Mean Price</text>
<line x1="739.6" y1="57.8" x2="756.5" y2="57.8" stroke="#222" stroke-width="2"/>
<text x="761" y="61.9" font-size="16" fill="#4a4a50" textLength="104.7" lengthAdjust="spacingAndGlyphs">BTC Price (usd)</text>
<g font-size="15.5" fill="#4c4c50" text-anchor="end">
<text x="41.5" y="99.2">3</text>
<text x="41.5" y="209.2">2</text>
<text x="41.5" y="398.1">1</text>
<text x="41.5" y="426.8">0.9</text>
<text x="41.5" y="459.0">0.8</text>
<text x="41.5" y="494.9">0.7</text>
<text x="41.5" y="536.8">0.6</text>
<text x="41.5" y="586.8">0.5</text>
<text x="41.5" y="647.2">0.4</text>
</g>
<g font-size="16" fill="#3c3c40">
<text x="1184.4" y="131.2" textLength="42.8" lengthAdjust="spacingAndGlyphs">$100K</text>
<text x="1184.4" y="149.8" textLength="34.4" lengthAdjust="spacingAndGlyphs">$80K</text>
<text x="1184.4" y="173.7" textLength="34.4" lengthAdjust="spacingAndGlyphs">$60K</text>
<text x="1184.4" y="207.4" textLength="34.4" lengthAdjust="spacingAndGlyphs">$40K</text>
<text x="1184.4" y="265.0" textLength="34.4" lengthAdjust="spacingAndGlyphs">$20K</text>
<text x="1184.4" y="322.6" textLength="34.4" lengthAdjust="spacingAndGlyphs">$10K</text>
<text x="1184.4" y="341.2" textLength="26.1" lengthAdjust="spacingAndGlyphs">$8K</text>
<text x="1184.4" y="365.1" textLength="26.1" lengthAdjust="spacingAndGlyphs">$6K</text>
<text x="1184.4" y="398.8" textLength="26.1" lengthAdjust="spacingAndGlyphs">$4K</text>
<text x="1184.4" y="456.4" textLength="26.1" lengthAdjust="spacingAndGlyphs">$2K</text>
<text x="1184.4" y="514.0" textLength="26.1" lengthAdjust="spacingAndGlyphs">$1K</text>
<text x="1184.4" y="532.6" textLength="32.8" lengthAdjust="spacingAndGlyphs">$800</text>
<text x="1184.4" y="556.5" textLength="32.8" lengthAdjust="spacingAndGlyphs">$600</text>
<text x="1184.4" y="590.2" textLength="32.8" lengthAdjust="spacingAndGlyphs">$400</text>
<text x="1184.4" y="647.8" textLength="32.8" lengthAdjust="spacingAndGlyphs">$200</text>
</g>
<text transform="translate(1238.8,364.3) rotate(90)" font-size="16" fill="#3c3c40" text-anchor="middle" textLength="34.6" lengthAdjust="spacingAndGlyphs">Price</text>
<g font-size="13" fill="#8c8c96" text-anchor="middle">
<text x="77.4" y="668.2" textLength="27.5" lengthAdjust="spacingAndGlyphs">2016</text>
<text x="186.7" y="668.2" textLength="27.5" lengthAdjust="spacingAndGlyphs">2017</text>
<text x="296.0" y="668.2" textLength="27.5" lengthAdjust="spacingAndGlyphs">2018</text>
<text x="405.3" y="668.2" textLength="27.5" lengthAdjust="spacingAndGlyphs">2019</text>
<text x="514.6" y="668.2" textLength="27.5" lengthAdjust="spacingAndGlyphs">2020</text>
<text x="623.9" y="668.2" textLength="27.5" lengthAdjust="spacingAndGlyphs">2021</text>
<text x="733.2" y="668.2" textLength="27.5" lengthAdjust="spacingAndGlyphs">2022</text>
<text x="842.5" y="668.2" textLength="27.5" lengthAdjust="spacingAndGlyphs">2023</text>
<text x="951.8" y="668.2" textLength="27.5" lengthAdjust="spacingAndGlyphs">2024</text>
<text x="1061.1" y="668.2" textLength="27.5" lengthAdjust="spacingAndGlyphs">2025</text>
</g>
<g font-size="14.7" font-family="'DejaVu Sans', 'Liberation Sans', sans-serif" fill="#36405a" stroke="#36405a" stroke-width="0.3">
<text x="877.2" y="480.4" textLength="282.5" lengthAdjust="spacingAndGlyphs">At these AVIV levels, the price tends</text>
<text x="876.8" y="502.7" textLength="282.9" lengthAdjust="spacingAndGlyphs">to consolidate for a medium period</text>
<text x="876.8" y="524.8" textLength="283.4" lengthAdjust="spacingAndGlyphs">of time, to subsequently either form</text>
<text x="883.3" y="546.7" textLength="270.5" lengthAdjust="spacingAndGlyphs">support or confirm a bear market.</text>
<text x="896.7" y="590.9" textLength="243.5" lengthAdjust="spacingAndGlyphs">WE ARE AT A CRITICAL MOMENT.</text>
</g>
</svg></body></html>
